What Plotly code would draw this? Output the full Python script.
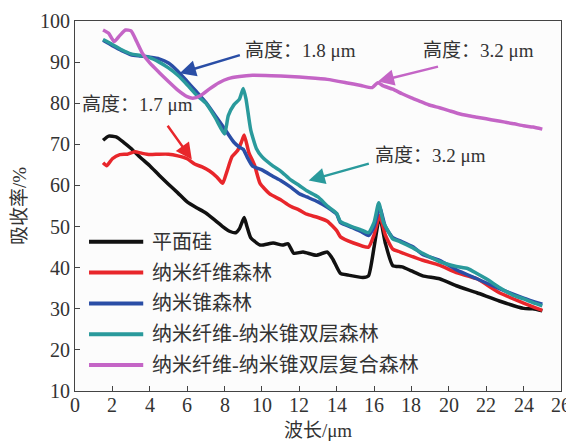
import plotly.graph_objects as go

# 吸收率 vs 波长
series_names = ["平面硅", "纳米纤维森林", "纳米锥森林", "纳米纤维-纳米锥双层森林", "纳米纤维-纳米锥双层复合森林"]
series_colors = ["#111111", "#e8262b", "#2a4ea6", "#2a9a9c", "#c465c6"]
x_ticks = list(range(0, 27, 2))

x_flat = [1.5, 1.8, 2.2, 2.6, 3, 3.5, 4, 4.5, 5, 5.5, 6, 6.5, 7, 7.5, 7.9, 8.3, 8.6, 8.8, 9.05, 9.2, 9.4,
          9.9, 10.6, 11.1, 11.4, 11.7, 12.2, 12.9, 13.5, 13.8, 14.2, 14.6, 15.4, 15.7, 16.0, 16.3, 16.6, 17,
          17.5, 18.0, 18.6, 19.5, 20.4, 21.5, 22.7, 24, 24.5, 25]
y_flat = [71, 72, 71.8, 70.5, 69, 66.8, 64.8, 62.5, 60.3, 58.2, 56, 54.6, 53.3, 51.5, 50, 48.8, 48.5, 49.5, 52.2, 50,
          47.3, 45.5, 46, 45.5, 45.8, 43.5, 43.8, 43, 43.8, 42, 38.6, 38.2, 37.6, 38, 45, 52.5, 46, 40.5,
          40.2, 39.2, 38, 37.3, 35.6, 33.9, 31.9, 30.1, 30, 29.5]

x_fiber = [1.5, 1.7, 2.0, 2.4, 2.8, 3.2, 3.6, 4, 4.5, 5, 5.5, 6, 6.4, 6.8, 7.2, 7.6, 7.9, 8.1, 8.4, 8.7, 8.9, 9.05,
           9.3, 9.6, 9.9, 10.4, 11, 11.5, 12, 12.4, 13, 13.5, 14, 14.2, 14.9, 15.7, 16.0, 16.3, 16.6, 17, 17.4,
           18.6, 19.5, 20.4, 21.5, 22.7, 24, 25]
y_fiber = [65.5, 64.8, 66.5, 67.5, 67.6, 68.2, 67.8, 67.5, 67.6, 67.6, 67.2, 66.5, 65.2, 64.5, 63.5, 62, 60.5, 63, 67, 68.5, 70.5, 72.3,
           68, 65, 60.5, 58, 56.5, 55, 54, 53, 52.2, 51.3, 49, 47.5, 46, 45, 48, 52.7, 48, 44.5, 43.8,
           41.8, 40.6, 38.8, 37.3, 33.9, 31.4, 29.6]

x_cone = [1.5, 2, 2.5, 3, 3.5, 4, 4.5, 5, 5.5, 6, 6.5, 7, 7.5, 8, 8.5, 8.8, 9.0, 9.2, 9.5, 10, 10.6, 11, 11.5, 12,
          12.4, 13, 13.5, 14, 14.2, 14.8, 15.3, 15.7, 16.0, 16.3, 16.6, 17, 17.4, 18.1, 18.6, 19.5, 20.4, 21.5,
          22.7, 24, 25]
y_cone = [95.3, 94, 92.8, 91.8, 91.5, 91.2, 90.8, 89.8, 87.8, 85.3, 82.8, 80.2, 77, 73.8, 70.5, 69.3, 68.8, 67, 64.7, 63.8,
          62.2, 61.2, 59.7, 58, 57.2, 56, 54.7, 53, 51, 49.8, 48.8, 47.8, 50, 54.7, 50, 47.3, 46.5, 45, 43.2, 41.8,
          39.5, 37.3, 34.9, 32.6, 31.1]

x_double = [1.5, 2, 2.5, 3, 3.5, 4, 4.5, 5, 5.5, 6, 6.5, 7, 7.5, 8.0, 8.2, 8.5, 8.8, 9.0, 9.15, 9.4, 9.7, 10, 10.6,
            11, 11.5, 12, 12.4, 13, 13.5, 14, 14.2, 14.8, 15.3, 15.7, 16.0, 16.25, 16.5, 16.8, 17, 17.4, 18, 18.6,
            19.5, 20.4, 21, 21.5, 22, 22.7, 23.4, 24, 24.5, 25]
y_double = [95.5, 94.3, 93, 92, 91.6, 91.1, 90, 88.6, 86.8, 84.5, 82, 80, 76.5, 72.5, 77, 79.6, 81, 83.6, 81, 73.5, 69, 67, 64.7,
            63.5, 61.5, 60, 58.7, 57.2, 55, 53.2, 51.2, 50, 49.2, 48.5, 51, 55.8, 51, 48.5, 47, 46.3, 45, 43.5,
            41.5, 40.3, 39.8, 38.6, 37.3, 35.2, 33.4, 32.4, 31.5, 30.7]

x_composite = [1.5, 1.8, 2.1, 2.4, 2.7, 3.0, 3.3, 3.6, 4, 4.5, 5, 5.5, 6, 6.3, 6.7, 7.2, 7.7, 8.2, 8.8, 9.5, 10.5, 11.5,
               12.5, 13.5, 14.5, 15.3, 15.9, 16.2, 16.5, 17, 17.5, 18, 18.5, 19, 19.5, 20, 20.5, 21, 21.5, 22,
               22.5, 23, 23.5, 24, 24.5, 25]
y_composite = [97.8, 97, 95, 96.5, 97.8, 97.6, 95, 92.2, 89.8, 87.5, 85.3, 83.2, 81.6, 81.2, 81.8, 83.5, 85, 86, 86.5, 86.8, 86.7, 86.5,
               86.2, 85.8, 85, 84.3, 83.8, 85, 84.2, 83.4, 82.3, 81.3, 80.4, 79.5, 78.9, 78.2, 77.5, 77, 76.6, 76.2,
               75.8, 75.4, 75, 74.5, 74.2, 73.7]

xs = [x_flat, x_fiber, x_cone, x_double, x_composite]
ys = [y_flat, y_fiber, y_cone, y_double, y_composite]

# 标注: 文字, 文字位置, 箭头尾, 箭头头, 颜色序号
notes = [
    ("高度：1.8 μm", (9.0, 92.8), (8.9, 91.8), (5.6, 87.3), 2),
    ("高度：3.2 μm", (18.5, 92.8), (19.5, 89.0), (16.2, 85.3), 4),
    ("高度：1.7 μm", (0.25, 79.6), (4.9, 74.9), (6.25, 66.3), 1),
    ("高度：3.2 μm", (15.95, 67.2), (15.8, 65.4), (12.5, 61.2), 3),
]

serif = "Liberation Serif, Noto Sans CJK SC"

fig = go.Figure()
for name, color, x, y in zip(series_names, series_colors, xs, ys):
    fig.add_trace(go.Scatter(
        x=x, y=y, mode="lines", name=name,
        line=dict(color=color, width=3.5, shape="spline", smoothing=0.5),
        showlegend=False,
    ))

# 图例 (手动绘制, 线段较长)
for i, (name, color) in enumerate(zip(series_names, series_colors)):
    ly = 46.3 - 7.5 * i
    fig.add_shape(type="line", xref="x", yref="y", x0=0.75, x1=3.65, y0=ly, y1=ly,
                  line=dict(color=color, width=4))
    fig.add_annotation(x=4.0, y=ly, xref="x", yref="y", text=name, showarrow=False,
                       xanchor="left", yanchor="middle",
                       font=dict(family=serif, size=20, color="#333333"))

for text, (tx, ty), (ax, ay), (hx, hy), ci in notes:
    fig.add_annotation(x=tx, y=ty, xref="x", yref="y", text=text, showarrow=False,
                       xanchor="left", yanchor="middle",
                       font=dict(family=serif, size=19, color="#333333"))
    fig.add_annotation(x=hx, y=hy, ax=ax, ay=ay, xref="x", yref="y", axref="x", ayref="y",
                       text="", showarrow=True, arrowhead=2, arrowsize=1.3, arrowwidth=2.5,
                       arrowcolor=series_colors[ci])

# x 刻度标签: plus proches de l'axe que ceux de plotly
for t in x_ticks:
    fig.add_annotation(x=t, y=0, xref="x", yref="paper", text=str(t), showarrow=False,
                       yanchor="middle", yshift=-14,
                       font=dict(family=serif, size=20, color="#333333"))

axis_style = dict(
    showline=True, linecolor="#444444", linewidth=1.2, mirror=True,
    ticks="inside", ticklen=5, tickcolor="#444444", showgrid=False, zeroline=False,
    automargin=False,
    tickfont=dict(family=serif, size=20, color="#333333"),
)

# la page html garde une marge de 8 px autour de la figure
fig.update_layout(
    width=566, height=433,
    margin=dict(l=67, r=13, t=13, b=50),
    paper_bgcolor="white", plot_bgcolor="#fcfcfc",
    xaxis=dict(range=[0, 26], tickvals=x_ticks, showticklabels=False,
               title=dict(text="波长/μm", standoff=38, font=dict(family=serif, size=19, color="#333333")),
               **axis_style),
    yaxis=dict(range=[10, 100], dtick=10, tick0=10,
               title=dict(text="吸收率/%", standoff=8, font=dict(family=serif, size=19, color="#333333")),
               **axis_style),
)

fig.write_html("out.html")
